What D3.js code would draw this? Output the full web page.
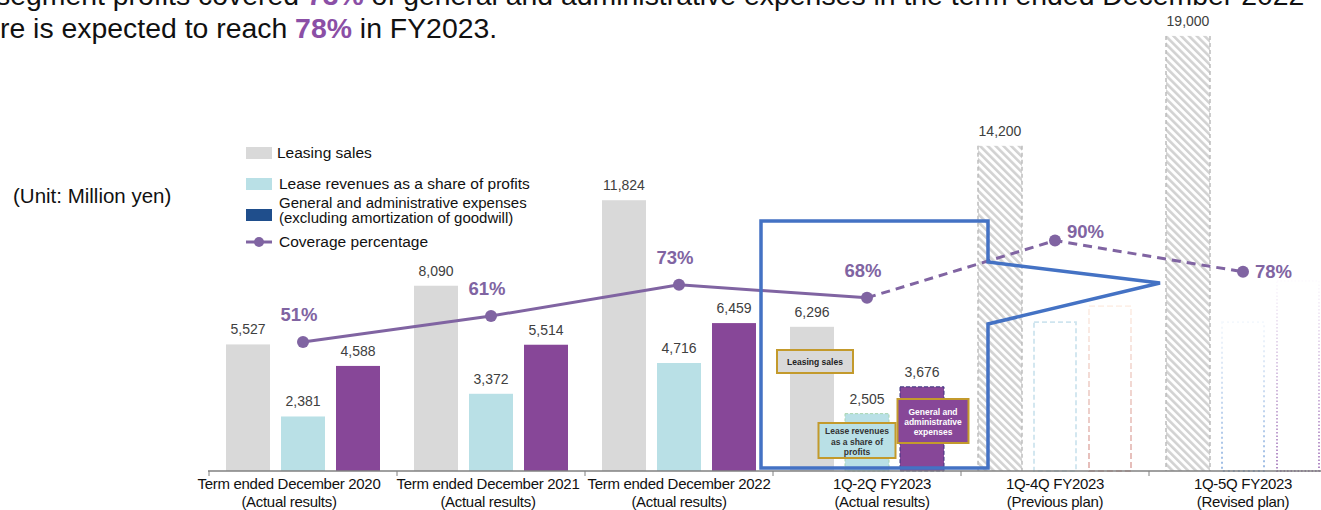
<!DOCTYPE html>
<html>
<head>
<meta charset="utf-8">
<script src="https://cdn.jsdelivr.net/npm/d3@7"></script>
<style>
  body { margin: 0; background: #fff; }
  svg { display: block; font-family: Arial, "Liberation Sans", sans-serif; }
</style>
</head>
<body>
<svg id="chart" width="1321" height="510"></svg>
<script>
// data
const catLine1 = ["Term ended December 2020", "Term ended December 2021", "Term ended December 2022",
                  "1Q-2Q FY2023", "1Q-4Q FY2023", "1Q-5Q FY2023"];
const catLine2 = ["(Actual results)", "(Actual results)", "(Actual results)",
                  "(Actual results)", "(Previous plan)", "(Revised plan)"];
const kind = ["actual", "actual", "actual", "interim", "plan", "plan"];
const leasingSales = [5527, 8090, 11824, 6296, 14200, 19000];
const leaseRevenues = [2381, 3372, 4716, 2505, 6500, 6500];   // last two are faint outlines, no labels
const gaExpenses = [4588, 5514, 6459, 3676, 7200, 8300];
const coverage = [51, 61, 73, 68, 90, 78];

const purple = "#8064a2";
const svg = d3.select("#chart");
const defs = svg.append("defs");

// diagonal hatch for plan bars
const hatch = defs.append("pattern")
  .attr("id", "hatch").attr("patternUnits", "userSpaceOnUse")
  .attr("width", 5.5).attr("height", 5.5)
  .attr("patternTransform", "rotate(-45)");
hatch.append("rect").attr("width", 5.5).attr("height", 5.5).attr("fill", "#fff");
hatch.append("rect").attr("width", 2.6).attr("height", 5.5).attr("fill", "#d2d2d2");

function fade(id, c0, c1) {
  const g = defs.append("linearGradient").attr("id", id)
    .attr("x1", 0).attr("y1", 0).attr("x2", 0).attr("y2", 1);
  g.append("stop").attr("offset", "0%").attr("stop-color", c0);
  g.append("stop").attr("offset", "100%").attr("stop-color", c1);
}
fade("fadeOrange", "#fdf0e8", "#e2b4b0");
fade("fadeBlue", "#f4f8fd", "#8fb2e0");
fade("fadePurple", "#fdfbfe", "#a77bbd");

// headline (cut off by the frame like the original)
const head = svg.append("g").attr("font-size", 28.4).attr("fill", "#111");
head.append("text").attr("x", -4).attr("y", 5)
  .call(t => {
    t.append("tspan").text("segment profits covered ");
    t.append("tspan").attr("fill", "#8b4fa6").attr("font-weight", "bold").text("73%");
    t.append("tspan").text(" of general and administrative expenses in the term ended December 2022");
  });
const line2 = head.append("text").attr("y", 38);
line2.append("tspan").text("The figure is expected to reach ");
line2.append("tspan").attr("fill", "#8b4fa6").attr("font-weight", "bold").text("78%");
line2.append("tspan").text(" in FY2023.");
const probe = head.append("text").text("The figu");
line2.attr("x", -probe.node().getComputedTextLength());
probe.remove();

svg.append("text").attr("x", 13).attr("y", 203).attr("font-size", 20.5).attr("fill", "#111")
  .text("(Unit: Million yen)");

// scales
const x = d3.scaleBand().domain(d3.range(6)).range([209, 209 + 6 * 188]);
const sub = d3.scaleBand().domain(["sales", "lease", "ga"]).range([17, 171]).paddingInner(0.2);
const y = d3.scaleLinear().domain([0, 20000]).range([471, 13]);
const yp = d3.scaleLinear().domain([0, 100]).range([474.6, 214.6]);
const fmt = d3.format(",");

const bars = svg.append("g");
const labels = svg.append("g").attr("font-size", 14).attr("fill", "#404040")
  .attr("text-anchor", "middle");

d3.range(6).forEach(i => {
  const x0 = x(i);
  const plan = kind[i] === "plan";
  // leasing sales
  const sx = x0 + sub("sales"), sw = sub.bandwidth();
  if (plan) {
    bars.append("rect").attr("x", sx).attr("y", y(leasingSales[i]))
      .attr("width", sw).attr("height", y(0) - y(leasingSales[i])).attr("fill", "url(#hatch)");
    [sx, sx + sw].forEach(lx => bars.append("line")
      .attr("x1", lx).attr("x2", lx).attr("y1", y(leasingSales[i])).attr("y2", y(0))
      .attr("stroke", "#bdbdbd").attr("stroke-width", 1.5).attr("stroke-dasharray", "4,3"));
  } else {
    bars.append("rect").attr("x", sx).attr("y", y(leasingSales[i]))
      .attr("width", sw).attr("height", y(0) - y(leasingSales[i])).attr("fill", "#d9d9d9");
  }
  labels.append("text").attr("x", sx + sw / 2).attr("y", y(leasingSales[i]) - 10)
    .text(fmt(leasingSales[i]));

  // lease revenues and G&A
  const lx = x0 + sub("lease"), gx = x0 + sub("ga");
  if (plan) {
    const dotted = i === 5;
    bars.append("rect").attr("x", lx + 1).attr("y", y(leaseRevenues[i]))
      .attr("width", sw - 2).attr("height", y(0) - y(leaseRevenues[i])).attr("fill", "none")
      .attr("stroke", dotted ? "url(#fadeBlue)" : "#cfe5ef").attr("stroke-width", 1.8)
      .attr("stroke-dasharray", dotted ? "2,3" : "5,3");
    bars.append("rect").attr("x", gx + 1).attr("y", y(gaExpenses[i]))
      .attr("width", sw - 2).attr("height", y(0) - y(gaExpenses[i])).attr("fill", "none")
      .attr("stroke", dotted ? "url(#fadePurple)" : "url(#fadeOrange)").attr("stroke-width", 1.8)
      .attr("stroke-dasharray", dotted ? "1.5,2" : "6,3");
  } else {
    const interim = kind[i] === "interim";
    bars.append("rect").attr("x", lx).attr("y", y(leaseRevenues[i]))
      .attr("width", sw).attr("height", y(0) - y(leaseRevenues[i])).attr("fill", "#b9e0e6")
      .attr("stroke", interim ? "#a9d5b0" : "none").attr("stroke-dasharray", "3,2");
    bars.append("rect").attr("x", gx).attr("y", y(gaExpenses[i]))
      .attr("width", sw).attr("height", y(0) - y(gaExpenses[i])).attr("fill", "#874798")
      .attr("stroke", interim ? "#3d3580" : "none").attr("stroke-dasharray", "4,2");
    labels.append("text").attr("x", lx + sw / 2).attr("y", y(leaseRevenues[i]) - 10)
      .text(fmt(leaseRevenues[i]));
    labels.append("text").attr("x", gx + sw / 2).attr("y", y(gaExpenses[i]) - 10)
      .text(fmt(gaExpenses[i]));
  }
});

// x axis
const axis = svg.append("g");
axis.append("line").attr("x1", x(0) - 1).attr("x2", 1321).attr("y1", y(0)).attr("y2", y(0))
  .attr("stroke", "#808080").attr("stroke-width", 1.5);
d3.range(6).forEach(i => {
  axis.append("line").attr("x1", x(i)).attr("x2", x(i)).attr("y1", y(0)).attr("y2", y(0) + 5)
    .attr("stroke", "#808080");
});
const labelNudge = [-14, -3, 0, 15, 0, 0];
const ticks = axis.append("g").attr("font-size", 15).attr("fill", "#111").attr("text-anchor", "middle");
d3.range(6).forEach(i => {
  const cx = x(i) + x.bandwidth() / 2 + labelNudge[i];
  const t = ticks.append("text").attr("x", cx).attr("y", y(0) + 18).attr("letter-spacing", -0.3);
  t.append("tspan").attr("x", cx).text(catLine1[i]);
  t.append("tspan").attr("x", cx).attr("dy", 18).text(catLine2[i]);
});

// coverage line
const pts = coverage.map((v, i) => [x(i) + sub("lease") + sub.bandwidth() / 2, yp(v)]);
const line = d3.line();
svg.append("path").attr("d", line(pts.slice(0, 4))).attr("fill", "none")
  .attr("stroke", purple).attr("stroke-width", 3);
svg.append("path").attr("d", line(pts.slice(3))).attr("fill", "none")
  .attr("stroke", purple).attr("stroke-width", 3).attr("stroke-dasharray", "9,6");
svg.append("g").selectAll("circle").data(pts).join("circle")
  .attr("cx", d => d[0]).attr("cy", d => d[1]).attr("r", 6).attr("fill", purple);
svg.append("g").attr("font-size", 18.5).attr("font-weight", "bold").attr("fill", purple)
  .selectAll("text").data(coverage).join("text")
  .attr("x", (d, i) => kind[i] === "plan" ? pts[i][0] + 12 : pts[i][0] - 4)
  .attr("y", (d, i) => kind[i] === "plan" ? pts[i][1] + (i === 4 ? -3 : 6) : pts[i][1] - 21)
  .attr("text-anchor", (d, i) => kind[i] === "plan" ? "start" : "middle")
  .text(d => d + "%");

// blue callout around the interim results
const bx0 = x(3) - 12, bx1 = x(4) + 27, boxTop = 221, boxBot = 468;
svg.append("path")
  .attr("d", `M${bx0},${boxTop}H${bx1}V262L1160,283L${bx1},324V${boxBot}H${bx0}Z`)
  .attr("fill", "none").attr("stroke", "#4472c4").attr("stroke-width", 3.5)
  .attr("stroke-linejoin", "miter");

// tags inside the callout
const tags = [
  { lines: ["Leasing sales"], series: "sales", dx: 3, y0: 350, w: 76, fill: "#d9d9d9", color: "#222" },
  { lines: ["Lease revenues", "as a share of", "profits"], series: "lease", dx: -10, y0: 423, w: 77, fill: "#b9e0e6", color: "#333" },
  { lines: ["General and", "administrative", "expenses"], series: "ga", dx: 11, y0: 399, w: 71, fill: "#874798", color: "#fff" }
];
tags.forEach(t => {
  const cx = x(3) + sub(t.series) + sub.bandwidth() / 2 + t.dx;
  const h = t.lines.length === 1 ? 23 : 35 + (t.series === "ga" ? 9 : 0);
  svg.append("rect").attr("x", cx - t.w / 2).attr("y", t.y0).attr("width", t.w).attr("height", h)
    .attr("fill", t.fill).attr("stroke", "#c39a2c").attr("stroke-width", 2);
  const tx = svg.append("text").attr("text-anchor", "middle").attr("font-size", 8.5)
    .attr("font-weight", "bold").attr("fill", t.color);
  const startY = t.y0 + (t.lines.length === 1 ? 15 : (t.series === "ga" ? 16 : 11));
  t.lines.forEach((l, k) => tx.append("tspan").attr("x", cx).attr("y", startY + k * (t.series === "ga" ? 10 : 10.5)).text(l));
});

// legend
const legendItems = [
  { type: "box", fill: "#d9d9d9", lines: ["Leasing sales"], y: 153 },
  { type: "box", fill: "#b9e0e6", lines: ["Lease revenues as a share of profits"], y: 184 },
  { type: "box", fill: "#1f4e8c", lines: ["General and administrative expenses", "(excluding amortization of goodwill)"], y: 215 },
  { type: "line", lines: ["Coverage percentage"], y: 242 }
];
const lg = svg.append("g").attr("font-size", 15.5).attr("fill", "#111");
legendItems.forEach(d => {
  if (d.type === "box") {
    lg.append("rect").attr("x", 246).attr("y", d.y - 6).attr("width", 26).attr("height", 12).attr("fill", d.fill);
  } else {
    lg.append("line").attr("x1", 246).attr("x2", 272).attr("y1", d.y).attr("y2", d.y)
      .attr("stroke", purple).attr("stroke-width", 3);
    lg.append("circle").attr("cx", 259).attr("cy", d.y).attr("r", 5).attr("fill", purple);
  }
  if (d.lines.length === 1) {
    lg.append("text").attr("x", d.y === 153 ? 277 : 279).attr("y", d.y + 5).text(d.lines[0]);
  } else {
    d.lines.forEach((l, k) => lg.append("text").attr("x", 279).attr("y", d.y - 7 + k * 15)
      .attr("font-size", 15).text(l));
  }
});
</script>
</body>
</html>
